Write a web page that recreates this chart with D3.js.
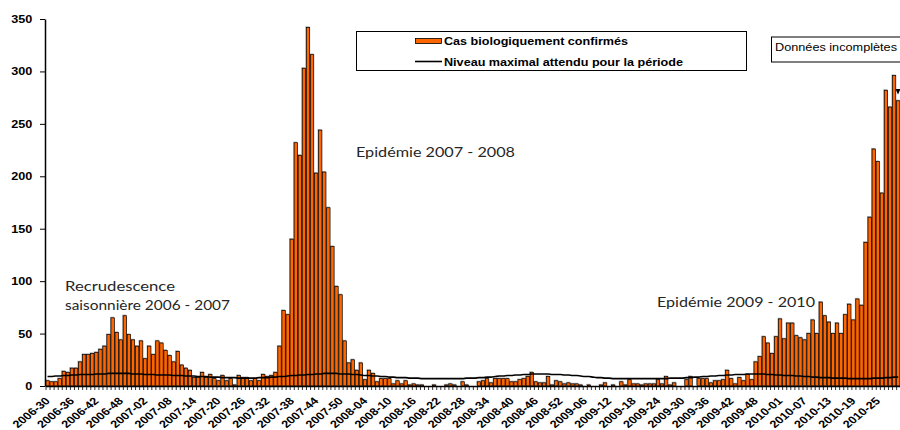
<!DOCTYPE html>
<html><head><meta charset="utf-8">
<script src="https://cdn.jsdelivr.net/npm/d3@7"></script>
<style>body{margin:0;background:#fff}svg{display:block}</style>
</head><body>
<svg id="c" width="900" height="430"></svg>
<script>
// ---- data ----
const tickLabels = ["2006-30","2006-36","2006-42","2006-48","2007-02","2007-08","2007-14","2007-20","2007-26","2007-32","2007-38","2007-44","2007-50","2008-04","2008-10","2008-16","2008-22","2008-28","2008-34","2008-40","2008-46","2008-52","2009-06","2009-12","2009-18","2009-24","2009-30","2009-36","2009-42","2009-48","2010-01","2010-07","2010-13","2010-19","2010-25"];
const labelStep = 6;
const cases = [
 5,4,4,7,14,13,17,17,23,30,
 30,31,32,35,38,49,65,51,44,67,
 49,44,38,43,26,38,30,43,41,34,
 29,23,33,20,17,15,8,8,13,8,
 11,7,5,10,5,7,1,10,8,8,
 5,7,5,11,9,10,13,38,72,68,
 140,232,220,303,342,316,203,244,204,170,
 133,95,87,43,22,25,15,22,6,15,
 12,4,7,7,7,2,5,2,5,1,
 2,1,1,0,0,1,0,0,1,2,
 1,0,4,1,0,0,4,5,7,3,
 7,7,7,7,4,4,6,7,9,13,
 4,3,3,9,1,5,4,2,3,2,
 2,1,0,1,0,0,1,3,0,1,
 0,4,1,6,2,2,1,2,2,2,
 6,2,9,1,3,0,0,6,9,0,
 7,7,7,3,5,5,6,15,7,2,
 8,5,11,6,23,28,47,41,31,47,
 64,45,60,60,48,46,44,50,63,50,
 80,67,61,50,60,50,68,78,63,83,
 77,137,161,226,214,184,282,266,296,272
];
const threshold = [
 9,9,9.5,9.5,10,10,10.5,10.5,11,11,
 11,11,11.5,11.5,11.5,12,12,12,12,12,
 12,11.5,11.5,11.5,11,11,11,10.5,10.5,10.5,
 10.5,10,10,10,9.5,9.5,9.5,9,9,9,
 8.5,8.5,8.5,8,8,8,8,7.5,7.5,7.5,
 7.5,7.5,8,8,8,8.5,8.5,9,9,9.5,
 10,10,10.5,10.5,11,11,11.5,11.5,12,12,
 12,12,11.5,11.5,11.5,11,11,10.5,10,10,
 9.5,9.5,9,9,8.5,8.5,8,8,8,7.5,
 7.5,7.5,7,7,7,7,7,7,7,7,
 7,7,7,7.5,7.5,7.5,8,8,8.5,8.5,
 9,9.5,9.5,10,10,10.5,10.5,11,11,11.5,
 11.5,11.5,11.5,11.5,11,11,11,10.5,10.5,10,
 10,9.5,9,9,8.5,8,8,7.5,7.5,7,
 7,7,7,7,7,7,7,7,7,7,
 7,7,7,7.5,7.5,7.5,7.5,8,8,8.5,
 8.5,9,9,9.5,9.5,10,10,10.5,10.5,11,
 11,11,11.5,11.5,11.5,11.5,11.5,11,11,10.5,
 10.5,10,10,10,9.5,9.5,9,9,8.5,8.5,
 8,8,8,7.5,7.5,7.5,7.5,7,7,7,
 7,7,7,7.5,7.5,7.5,8,8,8.5,8.5
];
const yTicks = [0,50,100,150,200,250,300,350];
const legendLabels = ["Cas biologiquement confirmés","Niveau maximal attendu pour la période"];
const noteLabel = "Données incomplètes";
const annotations = [
 {lines:["Recrudescence","saisonnière 2006 - 2007"]},
 {lines:["Epidémie 2007 - 2008"]},
 {lines:["Epidémie 2009 - 2010"]}
];

// ---- drawing ----
const svg = d3.select("#c");
const N = cases.length;
const X0 = 45.5, STEP = 4.07, SX = 1.22;
const x = d3.scaleBand().domain(d3.range(N)).range([X0, X0 + N*STEP]).padding(0);
const xl = d3.scaleLinear().domain([0, N]).range([X0, X0 + N*STEP]);
const y = d3.scaleLinear().domain([0, 350]).range([386, 19]);
const bw = x.bandwidth();
const ORANGE = "#ff6600";
const ARIAL = "'Liberation Sans', Arial, sans-serif";
const CAL = "Lato, 'Open Sans', sans-serif";

svg.append("rect").attr("width",900).attr("height",430).attr("fill","#fff");

// bar shadows
svg.append("g").selectAll("rect").data(cases).join("rect")
  .attr("x",(d,i)=>x(i)-0.6).attr("y",d=>y(d)-1.1)
  .attr("width",bw).attr("height",d=>Math.max(0,y(0)-y(d)))
  .attr("fill","#a8a8a8");
// bars
svg.append("g").selectAll("rect").data(cases).join("rect")
  .attr("x",(d,i)=>x(i)+0.35).attr("y",d=>y(d))
  .attr("width",bw-0.7).attr("height",d=>Math.max(0,y(0)-y(d)))
  .attr("fill",ORANGE).attr("stroke","#000").attr("stroke-width",0.7);

// threshold line
const line = d3.line().x((d,i)=>x(i)+bw/2).y(d=>y(d)).curve(d3.curveMonotoneX);
svg.append("path").datum(threshold).attr("d",line)
  .attr("fill","none").attr("stroke","#000").attr("stroke-width",1.6);

// x axis: week ticks
const gx = svg.append("g").attr("transform","translate(0,386)")
  .call(d3.axisBottom(xl).tickValues(d3.range(0,N+1)).tickSize(4).tickSizeOuter(0).tickFormat(""));
gx.select(".domain").attr("stroke","#000").attr("stroke-width",1.5);
gx.selectAll(".tick line").attr("stroke","#000").attr("stroke-width",0.8);

// x axis labels
const labelIdx = tickLabels.map((d,k)=>k*labelStep);
const gxl = svg.append("g").attr("transform","translate(0,386)")
  .call(d3.axisBottom(x).tickValues(labelIdx).tickSize(0).tickFormat(i=>tickLabels[i/labelStep]));
gxl.select(".domain").remove();
gxl.selectAll("text")
  .attr("y",0).attr("dy","0.35em").attr("x",0)
  .attr("transform",`translate(0,13) scale(${SX},1) rotate(-45)`)
  .attr("text-anchor","end")
  .attr("font-family",ARIAL).attr("font-weight","bold").attr("font-size",10.4).attr("fill","#000");

// y axis
const gy = svg.append("g").attr("transform","translate(45,0)")
  .call(d3.axisLeft(y).tickValues(yTicks).tickSize(5).tickSizeOuter(0).tickPadding(6));
gy.select(".domain").attr("stroke","#000").attr("stroke-width",1.5);
gy.selectAll(".tick line").attr("stroke","#000").attr("stroke-width",1);
gy.selectAll("text").attr("font-family",ARIAL).attr("font-weight","bold")
  .attr("font-size",11).attr("fill","#000").attr("transform",`scale(1.15,1)`);

// annotations
function ann(txt, x0, yb, w, size){
  svg.append("text").attr("x",x0).attr("y",yb).text(txt)
    .attr("font-family",CAL).attr("font-size",size).attr("fill","#262626")
    .attr("textLength",w).attr("lengthAdjust","spacingAndGlyphs");
}
ann(annotations[0].lines[0], 65, 291, 110, 14);
ann(annotations[0].lines[1], 65, 310, 165, 14);
ann(annotations[1].lines[0], 356, 157, 159, 14);
ann(annotations[2].lines[0], 657, 306.5, 158, 14);

// legend
const lg = svg.append("g");
lg.append("rect").attr("x",356.5).attr("y",31.5).attr("width",390).attr("height",39)
  .attr("fill","#fff").attr("stroke","#000").attr("stroke-width",1);
lg.append("rect").attr("x",415.5).attr("y",38.5).attr("width",26).attr("height",5)
  .attr("fill",ORANGE).attr("stroke","#000").attr("stroke-width",0.8);
lg.append("line").attr("x1",415).attr("x2",442).attr("y1",61.5).attr("y2",61.5)
  .attr("stroke","#000").attr("stroke-width",1.6);
lg.append("text").attr("x",444).attr("y",45).text(legendLabels[0])
  .attr("font-family",ARIAL).attr("font-weight","bold").attr("font-size",10.7).attr("fill","#000")
  .attr("textLength",184).attr("lengthAdjust","spacingAndGlyphs");
lg.append("text").attr("x",444).attr("y",66).text(legendLabels[1])
  .attr("font-family",ARIAL).attr("font-weight","bold").attr("font-size",10.7).attr("fill","#000")
  .attr("textLength",239).attr("lengthAdjust","spacingAndGlyphs");

// "Données incomplètes" box
svg.append("rect").attr("x",771.5).attr("y",37).attr("width",140).attr("height",25)
  .attr("fill","#fff").attr("stroke","#000").attr("stroke-width",1);
svg.append("text").attr("x",775).attr("y",50.5).text(noteLabel)
  .attr("font-family",ARIAL).attr("font-size",10.5).attr("fill","#000")
  .attr("textLength",122).attr("lengthAdjust","spacingAndGlyphs");
svg.append("path").attr("d","M895.5,89 L900.5,89 L898,94.5 Z").attr("fill","#000");
</script>
</body></html>
